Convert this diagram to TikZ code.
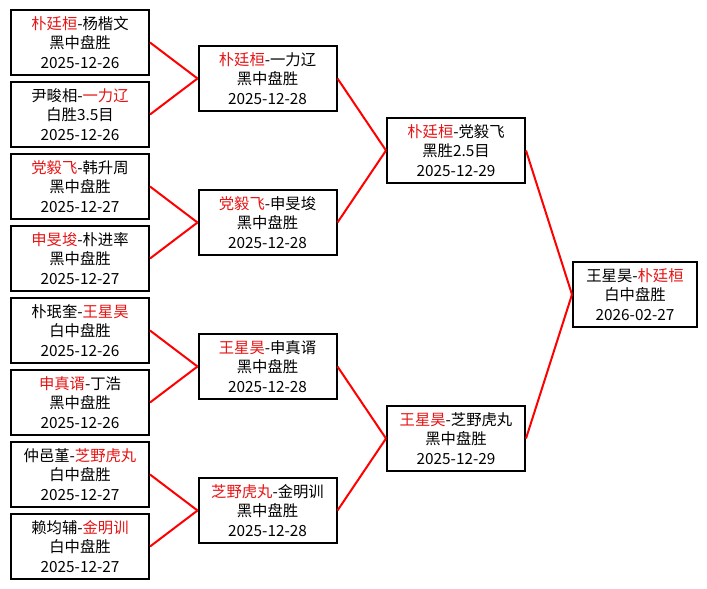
\documentclass[tikz,border=0pt]{standalone}
\usepackage{fontspec}
\usepackage{xcolor}
\usepackage{tikz}
\newfontfamily\cjk{Noto Sans CJK SC}
\definecolor{WinRed}{RGB}{230,20,20}
\newcommand{\win}[1]{\textcolor{WinRed}{#1}}

\begin{document}
\begin{tikzpicture}[x=0.75pt, y=-0.75pt,
	match/.style={draw, line width=1.5pt, minimum width=103.5pt, minimum height=48.75pt,
		inner sep=0pt, align=center, font=\cjk\fontsize{11.5}{14.6}\selectfont},
	link/.style={draw=red, line width=1.5pt}]
		\useasboundingbox (0,0) rectangle (707,589);
		
		% first round
		\node[match] (a1) at (80,42.5) {\win{朴廷桓}-杨楷文\\黑中盘胜\\2025-12-26};
		\node[match] (a2) at (80,114.5) {尹畯相-\win{一力辽}\\白胜3.5目\\2025-12-26};
		\node[match] (a3) at (80,186.5) {\win{党毅飞}-韩升周\\黑中盘胜\\2025-12-27};
		\node[match] (a4) at (80,258.5) {\win{申旻埈}-朴进率\\黑中盘胜\\2025-12-27};
		\node[match] (a5) at (80,330.5) {朴珉奎-\win{王星昊}\\白中盘胜\\2025-12-26};
		\node[match] (a6) at (80,402.5) {\win{申真谞}-丁浩\\黑中盘胜\\2025-12-26};
		\node[match] (a7) at (80,474.5) {仲邑堇-\win{芝野虎丸}\\白中盘胜\\2025-12-27};
		\node[match] (a8) at (80,546.5) {赖均辅-\win{金明训}\\白中盘胜\\2025-12-27};
		
		% second round
		\node[match] (b1) at (267.5,78.5) {\win{朴廷桓}-一力辽\\黑中盘胜\\2025-12-28};
		\node[match] (b2) at (267.5,222.5) {\win{党毅飞}-申旻埈\\黑中盘胜\\2025-12-28};
		\node[match] (b3) at (267.5,366.5) {\win{王星昊}-申真谞\\黑中盘胜\\2025-12-28};
		\node[match] (b4) at (267.5,510.5) {\win{芝野虎丸}-金明训\\黑中盘胜\\2025-12-28};
		
		% semifinals
		\node[match] (c1) at (456,150.5) {\win{朴廷桓}-党毅飞\\黑胜2.5目\\2025-12-29};
		\node[match] (c2) at (456,438.5) {\win{王星昊}-芝野虎丸\\黑中盘胜\\2025-12-29};
		
		% final
		\node[match, minimum width=93pt] (d) at (635,294.5) {王星昊-\win{朴廷桓}\\白中盘胜\\2026-02-27};
		
		\foreach \i/\j in {1/1,2/1,3/2,4/2,5/3,6/3,7/4,8/4}
			\draw[link] (a\i.east) -- (b\j.west);
		\foreach \i/\j in {1/1,2/1,3/2,4/2}
			\draw[link] (b\i.east) -- (c\j.west);
		\draw[link] (c1.east) -- (d.west);
		\draw[link] (c2.east) -- (d.west);
	\end{tikzpicture}
\end{document}
